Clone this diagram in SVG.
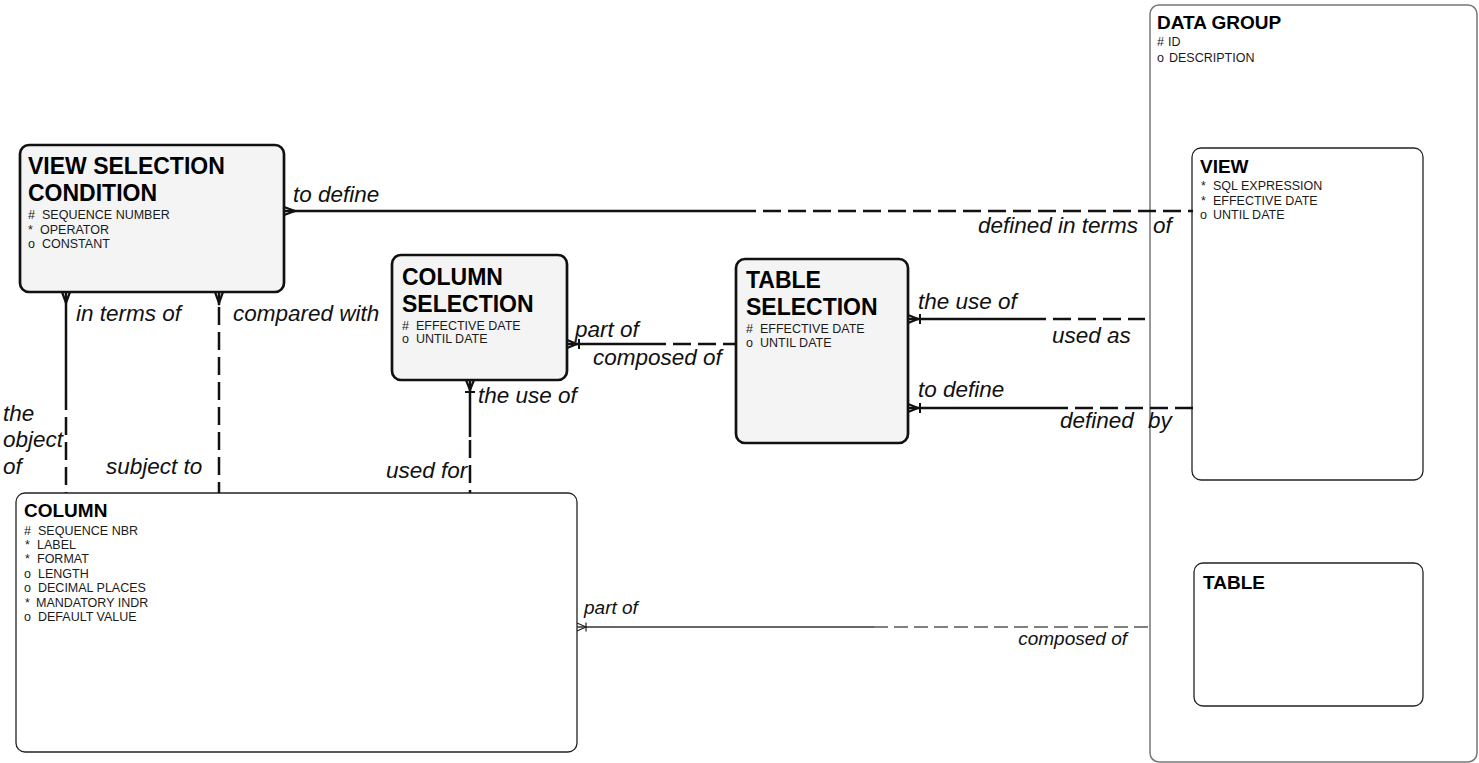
<svg xmlns="http://www.w3.org/2000/svg" width="1479" height="763" viewBox="0 0 1479 763">
<style>
  .bg{fill:#ffffff}
  .ent-thick{fill:#f4f4f4;stroke:#111;stroke-width:2.7}
  .ent-thin{fill:#ffffff;stroke:#222;stroke-width:1.3}
  .ent-grp{fill:#ffffff;stroke:#777;stroke-width:1.5}
  .title{font-family:"Liberation Sans",Arial,sans-serif;font-weight:bold;fill:#000}
  .t-big{font-size:23px}
  .t-small{font-size:19px}
  .attr{font-family:"Liberation Sans",Arial,sans-serif;font-size:12.5px;fill:#1a1a1a}
  .lbl{font-family:"Liberation Sans",Arial,sans-serif;font-style:italic;font-size:22.5px;fill:#111}
  .lbl-s{font-family:"Liberation Sans",Arial,sans-serif;font-style:italic;font-size:19px;fill:#111}
  .thick{stroke:#111;stroke-width:2.5;fill:none}
  .thick-d{stroke:#111;stroke-width:2.5;fill:none;stroke-dasharray:18 7}
  .thin{stroke:#333;stroke-width:1.3;fill:none}
  .thin-d{stroke:#555;stroke-width:1.3;fill:none;stroke-dasharray:14 6}
</style>
<defs>
  <marker id="crow" markerUnits="userSpaceOnUse" orient="auto" viewBox="-2 -8 22 16" refX="0" refY="0" markerWidth="22" markerHeight="16" overflow="visible">
    <path d="M0,-4 L11,0 L0,4" fill="none" stroke="#111" stroke-width="2.2"/>
  </marker>
  <marker id="crowbar" markerUnits="userSpaceOnUse" orient="auto" viewBox="-2 -8 22 16" refX="0" refY="0" markerWidth="22" markerHeight="16" overflow="visible">
    <path d="M0,-4 L10,0 L0,4" fill="none" stroke="#111" stroke-width="2.2"/>
    <path d="M12,-5 L12,5" fill="none" stroke="#111" stroke-width="2"/>
  </marker>
  <marker id="crowbar-thin" markerUnits="userSpaceOnUse" orient="auto" viewBox="-2 -8 22 16" refX="0" refY="0" markerWidth="22" markerHeight="16" overflow="visible">
    <path d="M0,-4 L9,0 L0,4" fill="none" stroke="#222" stroke-width="1.2"/>
    <path d="M9,-4.5 L9,4.5" fill="none" stroke="#222" stroke-width="1.2"/>
  </marker>
</defs>
<rect class="bg" x="0" y="0" width="1479" height="763"/>

<g id="data-group">
  <rect class="ent-grp" x="1150" y="5" width="327" height="757" rx="9"/>
  <text class="title t-small" x="1157" y="29">DATA GROUP</text>
  <text class="attr" y="46"><tspan x="1157">#</tspan><tspan x="1168">ID</tspan></text>
  <text class="attr" y="62"><tspan x="1157">o</tspan><tspan x="1169">DESCRIPTION</tspan></text>
</g>

<g id="view">
  <rect class="ent-thin" x="1192" y="148" width="231" height="332" rx="9"/>
  <text class="title t-small" x="1200" y="173">VIEW</text>
  <text class="attr" y="190"><tspan x="1201">*</tspan><tspan x="1213">SQL EXPRESSION</tspan></text>
  <text class="attr" y="205"><tspan x="1201">*</tspan><tspan x="1213">EFFECTIVE DATE</tspan></text>
  <text class="attr" y="219"><tspan x="1200">o</tspan><tspan x="1213">UNTIL DATE</tspan></text>
</g>

<g id="table">
  <rect class="ent-thin" x="1194" y="563" width="229" height="143" rx="9"/>
  <text class="title t-small" x="1203" y="589">TABLE</text>
</g>

<g id="view-selection-condition">
  <rect class="ent-thick" x="20" y="145" width="264" height="147" rx="9"/>
  <text class="title t-big" x="28" y="174">VIEW SELECTION</text>
  <text class="title t-big" x="28" y="201">CONDITION</text>
  <text class="attr" y="219"><tspan x="28">#</tspan><tspan x="42">SEQUENCE NUMBER</tspan></text>
  <text class="attr" y="234"><tspan x="28">*</tspan><tspan x="40">OPERATOR</tspan></text>
  <text class="attr" y="248"><tspan x="28">o</tspan><tspan x="42">CONSTANT</tspan></text>
</g>

<g id="column-selection">
  <rect class="ent-thick" x="392" y="255" width="175" height="125" rx="9"/>
  <text class="title t-big" x="402" y="285">COLUMN</text>
  <text class="title t-big" x="402" y="312">SELECTION</text>
  <text class="attr" y="330"><tspan x="402">#</tspan><tspan x="416">EFFECTIVE DATE</tspan></text>
  <text class="attr" y="343"><tspan x="402">o</tspan><tspan x="416">UNTIL DATE</tspan></text>
</g>

<g id="table-selection">
  <rect class="ent-thick" x="736" y="259" width="172" height="184" rx="9"/>
  <text class="title t-big" x="746" y="288">TABLE</text>
  <text class="title t-big" x="746" y="315">SELECTION</text>
  <text class="attr" y="333"><tspan x="746">#</tspan><tspan x="760">EFFECTIVE DATE</tspan></text>
  <text class="attr" y="347"><tspan x="746">o</tspan><tspan x="760">UNTIL DATE</tspan></text>
</g>

<g id="column">
  <rect class="ent-thin" x="16" y="493" width="561" height="259" rx="9"/>
  <text class="title t-small" x="24" y="517">COLUMN</text>
  <text class="attr" y="535"><tspan x="24">#</tspan><tspan x="38">SEQUENCE NBR</tspan></text>
  <text class="attr" y="549"><tspan x="25">*</tspan><tspan x="37">LABEL</tspan></text>
  <text class="attr" y="563"><tspan x="25">*</tspan><tspan x="37">FORMAT</tspan></text>
  <text class="attr" y="578"><tspan x="24">o</tspan><tspan x="38">LENGTH</tspan></text>
  <text class="attr" y="592"><tspan x="24">o</tspan><tspan x="38">DECIMAL PLACES</tspan></text>
  <text class="attr" y="607"><tspan x="25">*</tspan><tspan x="36">MANDATORY INDR</tspan></text>
  <text class="attr" y="621"><tspan x="24">o</tspan><tspan x="38">DEFAULT VALUE</tspan></text>
</g>

<g id="connectors">
  <g id="c-vsc-view">
    <path class="thick" d="M284,211 L738,211" marker-start="url(#crow)"/>
    <path class="thick-d" d="M738,211 L1193,211"/>
    <text class="lbl" x="293" y="202">to define</text>
    <text class="lbl" x="978" y="233">defined in terms<tspan x="1153">of</tspan></text>
  </g>
  <g id="c-vsc-col-1">
    <path class="thick" d="M66,292 L66,392" marker-start="url(#crow)"/>
    <path class="thick-d" d="M66,392 L66,493"/>
    <text class="lbl" x="76" y="321">in terms of</text>
    <text class="lbl" x="3" y="421">the</text>
    <text class="lbl" x="3" y="447">object</text>
    <text class="lbl" x="3" y="474">of</text>
  </g>
  <g id="c-vsc-col-2">
    <path class="thick" d="M219,292 L219,305" marker-start="url(#crow)"/>
    <path class="thick-d" d="M219,307 L219,493"/>
    <text class="lbl" x="233" y="321">compared with</text>
    <text class="lbl" x="106" y="474">subject to</text>
  </g>
  <g id="c-cs-ts">
    <path class="thick" d="M567,344 L648,344" marker-start="url(#crowbar)"/>
    <path class="thick-d" d="M648,344 L736,344"/>
    <text class="lbl" x="575" y="337">part of</text>
    <text class="lbl" x="593" y="365">composed of</text>
  </g>
  <g id="c-cs-col">
    <path class="thick" d="M470,380 L470,437" marker-start="url(#crowbar)"/>
    <path class="thick-d" d="M470,440 L470,493"/>
    <text class="lbl" x="478" y="403">the use of</text>
    <text class="lbl" x="386" y="478">used for</text>
  </g>
  <g id="c-ts-dg">
    <path class="thick" d="M908,319 L1028,319" marker-start="url(#crowbar)"/>
    <path class="thick-d" d="M1028,319 L1145,319"/>
    <text class="lbl" x="918" y="309">the use of</text>
    <text class="lbl" x="1052" y="343">used as</text>
  </g>
  <g id="c-ts-view">
    <path class="thick" d="M908,408 L1050,408" marker-start="url(#crowbar)"/>
    <path class="thick-d" d="M1050,408 L1193,408"/>
    <text class="lbl" x="918" y="397">to define</text>
    <text class="lbl" x="1060" y="428">defined<tspan x="1148">by</tspan></text>
  </g>
  <g id="c-col-dg">
    <path class="thin" d="M577,627 L874,627" marker-start="url(#crowbar-thin)"/>
    <path class="thin-d" d="M874,627 L1148,627"/>
    <text class="lbl-s" x="584" y="614">part of</text>
    <text class="lbl-s" x="1127" y="645" text-anchor="end">composed of</text>
  </g>
</g>
</svg>
